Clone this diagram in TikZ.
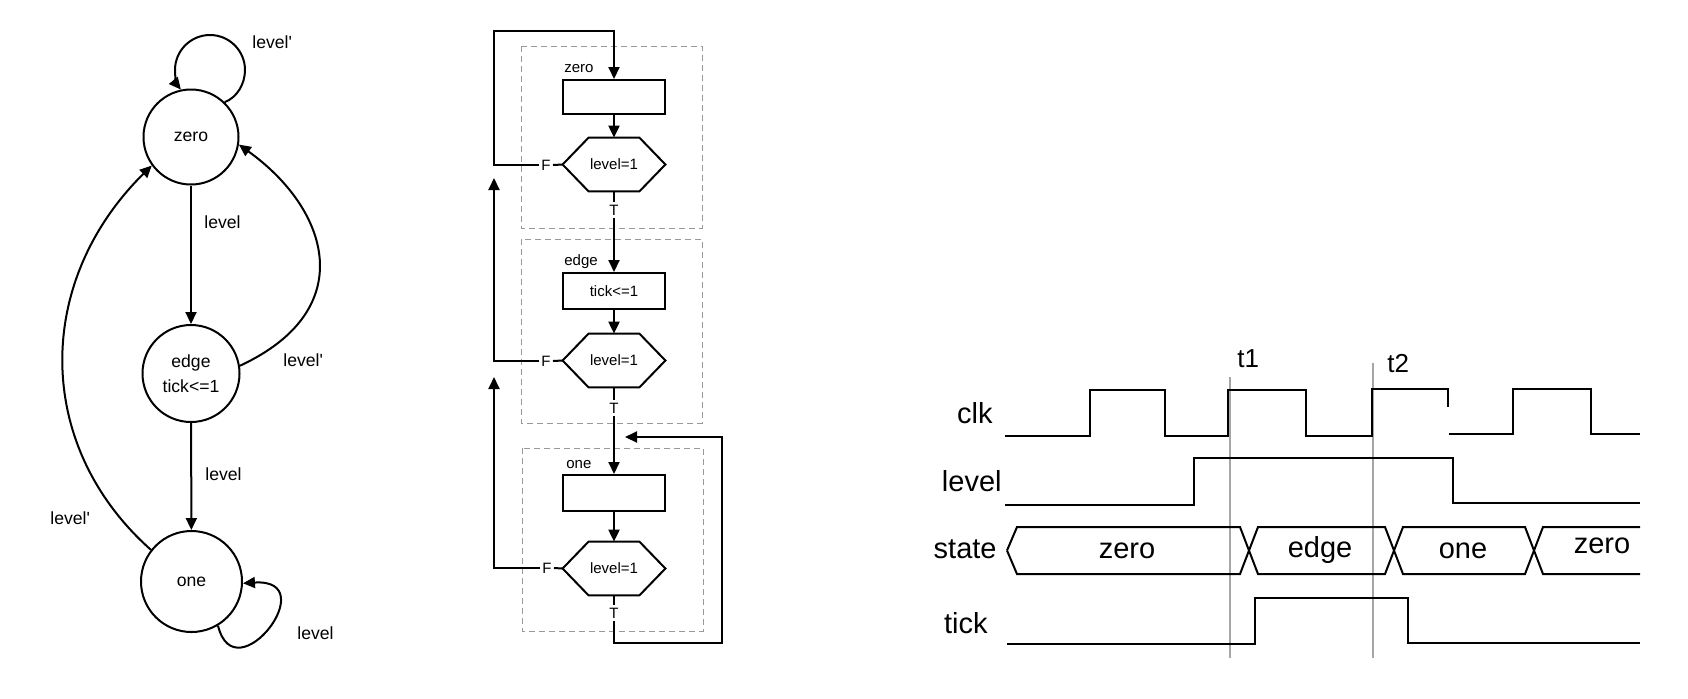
\documentclass[tikz,border=0pt]{standalone}
\usepackage{fontspec}
\setmainfont{Liberation Sans}
\usetikzlibrary{arrows.meta}
\begin{document}
\begin{tikzpicture}[x=0.5pt,y=-0.5pt,
  >={Triangle[length=6pt,width=5.5pt]},
  every node/.style={font=\fontsize{8.8}{10}\selectfont},
  state/.style={circle,draw,line width=1pt,inner sep=0pt},
  sdlabel/.style={anchor=base west,inner sep=0pt},
  conn/.style={line width=1pt},
  fcfont/.style={font=\fontsize{7.5}{9}\selectfont},
  procbox/.style={rectangle,draw,line width=1pt,minimum width=51pt,minimum height=18pt,inner sep=0pt,fcfont},
  hexnode/.style={minimum width=51pt,minimum height=26.5pt,inner sep=0pt,fcfont},
  tflabel/.style={fcfont,inner sep=1pt},
  groupbox/.style={draw=gray!80,line width=0.5pt,dash pattern=on 3pt off 2pt},
  grouplabel/.style={fcfont,anchor=base west,inner sep=0pt},
  wave/.style={line width=1pt,line join=miter},
  tdfont/.style={font=\fontsize{14.5}{16}\selectfont},
  siglabel/.style={tdfont,anchor=base east,inner sep=0pt},
  buslabel/.style={tdfont,anchor=base,inner sep=0pt},
  marker/.style={draw=gray!70,line width=0.6pt},
]
\useasboundingbox (0,0) rectangle (1688,698);

% ---------------- state diagram ----------------
\node[state,minimum size=47.5pt] (zero) at (191,137) {zero};
\node[state,minimum size=48.5pt,align=center,font=\fontsize{8.8}{12.5}\selectfont] (edge) at (191,373.5) {edge\\tick<=1};
\node[state,minimum size=50.5pt] (one) at (191.5,581.5) {one};

\draw[conn,->] (zero.46) .. controls (237,97.5) and (245,84) .. (245,70)
   .. controls (245,50.7) and (229.3,35) .. (210,35)
   .. controls (190.7,35) and (175,50.7) .. (175,70)
   .. controls (175,77.2) and (176.8,84.6) .. (zero.102);
\draw[conn,->] (zero) -- (edge);
\draw[conn,->] (edge) -- (one);
\draw[conn,->] (edge.9) .. controls (360,310) and (330,210) .. (zero.-9);
\draw[conn,->] (one.142) .. controls (34,446) and (34,282) .. (zero.216);
\draw[conn,->] (one.-59) .. controls (235,695) and (325,578) .. (one.-2);

\node[sdlabel] (la) at (252,48) {level\textquotesingle};
\node[sdlabel] (lb) at (204,228) {level};
\node[sdlabel] (lc) at (283,366) {level\textquotesingle};
\node[sdlabel] (ld) at (205,480) {level};
\node[sdlabel] (le) at (50,524) {level\textquotesingle};
\node[sdlabel] (lf) at (297,639) {level};

% ---------------- flowchart ----------------
\draw[groupbox] (521,46) rectangle (702,228);
\draw[groupbox] (521,239) rectangle (702,423);
\draw[groupbox] (522,448) rectangle (703,631);
\node[grouplabel] (gz) at (564,72) {zero};
\node[grouplabel] (ge) at (564,265) {edge};
\node[grouplabel] (go) at (566,468) {one};

\node[procbox,minimum height=17pt] (r1) at (614,97) {};
\node[hexnode] (h1) at (614,164.5) {level=1};
\node[procbox] (r2) at (614,291) {tick<=1};
\node[hexnode] (h2) at (614,360.5) {level=1};
\node[procbox] (r3) at (614,493) {};
\node[hexnode] (h3) at (614,568.5) {level=1};

\foreach \h in {h1,h2,h3}
  \draw[line width=1pt] (\h.west) -- ([xshift=13pt]\h.north west) -- ([xshift=-13pt]\h.north east)
     -- (\h.east) -- ([xshift=-13pt]\h.south east) -- ([xshift=13pt]\h.south west) -- cycle;

\node[tflabel] (f1) at (546,165) {F};
\node[tflabel] (t1) at (614,210) {T};
\node[tflabel] (f2) at (546,361) {F};
\node[tflabel] (t2) at (614,408) {T};
\node[tflabel] (f3) at (547,568) {F};
\node[tflabel] (t3) at (614,613) {T};

\coordinate (top) at (494,31);
\coordinate (up1) at (494,178);
\coordinate (up2) at (494,377);
\coordinate (rb) at (722,643);
\coordinate (rt) at (625,437);

\draw[conn] (h1.west) -- (f1.east);
\draw[conn,->] (f1.west) -| (top) -| (r1.north);
\draw[conn,->] (r1) -- (h1);
\draw[conn] (h1) -- (t1);
\draw[conn,->] (t1) -- (r2);
\draw[conn,->] (r2) -- (h2);
\draw[conn] (h2.west) -- (f2.east);
\draw[conn,->] (f2.west) -| (up1);
\draw[conn] (h2) -- (t2);
\draw[conn,->] (t2) -- (r3);
\draw[conn,->] (r3) -- (h3);
\draw[conn] (h3.west) -- (f3.east);
\draw[conn,->] (f3.west) -| (up2);
\draw[conn] (h3) -- (t3);
\draw[conn,->] (t3.south) |- (rb) |- (rt);

% ---------------- timing diagram ----------------
\draw[marker] (1230,377) -- (1230,658);
\draw[marker] (1373,363) -- (1373,658);
\node[tdfont,font=\fontsize{13}{15}\selectfont,anchor=base west,inner sep=0pt] (tA) at (1237,367) {t1};
\node[tdfont,font=\fontsize{13}{15}\selectfont,anchor=base west,inner sep=0pt] (tB) at (1387,372) {t2};

\node[siglabel] (lclk) at (993,423) {clk};
\node[siglabel] (llev) at (1002,491) {level};
\node[siglabel] (lst) at (997,558) {state};
\node[siglabel] (ltk) at (988,633) {tick};

\draw[wave] (1005,436) -- (1090,436) -- (1090,390) -- (1165,390) -- (1165,436) -- (1228,436)
  -- (1228,390) -- (1306,390) -- (1306,436) -- (1372,436) -- (1372,389) -- (1448,389) -- (1448,407);
\draw[wave] (1449,434) -- (1513,434) -- (1513,389) -- (1591,389) -- (1591,434) -- (1640,434);

\draw[wave] (1005,505) -- (1194,505) -- (1194,458) -- (1453,458) -- (1453,503) -- (1640,503);

\draw[wave] (1007,550.5) -- (1017,527) -- (1240,527) -- (1258,574) -- (1385,574) -- (1403,527)
  -- (1525,527) -- (1543,574) -- (1640,574);
\draw[wave] (1007,550.5) -- (1017,574) -- (1240,574) -- (1258,527) -- (1385,527) -- (1403,574)
  -- (1525,574) -- (1543,527) -- (1640,527);
\node[buslabel] (sz) at (1127,558) {zero};
\node[buslabel] (se) at (1320,557) {edge};
\node[buslabel] (so) at (1463,558) {one};
\node[buslabel] (sz2) at (1602,553) {zero};

\draw[wave] (1007,644) -- (1255,644) -- (1255,598) -- (1408,598) -- (1408,643) -- (1640,643);
\end{tikzpicture}
\end{document}
